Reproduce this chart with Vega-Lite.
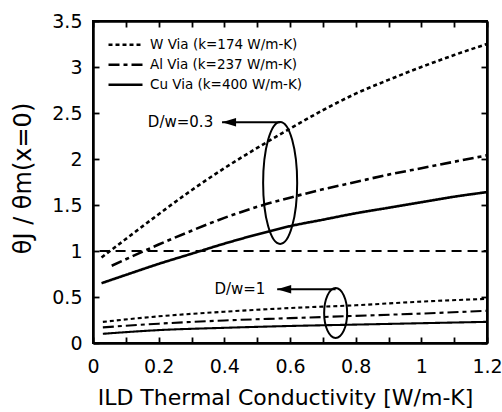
{
  "$schema": "https://vega.github.io/schema/vega-lite/v6.json",
  "width": 394,
  "height": 322,
  "autosize": {"type": "none"},
  "padding": {"left": 93, "top": 21, "right": 15, "bottom": 69},
  "background": "white",
  "config": {
    "font": "DejaVu Sans",
    "view": {"stroke": "black", "strokeWidth": 2},
    "axis": {
      "grid": false,
      "domainColor": "black",
      "domainWidth": 2.5,
      "tickColor": "black",
      "tickWidth": 1.8,
      "tickSize": -6,
      "labelColor": "black",
      "labelFont": "DejaVu Sans",
      "labelFontSize": 19,
      "labelFlush": false,
      "labelOverlap": false,
      "labelBound": false,
      "titleFont": "DejaVu Sans",
      "titleColor": "black",
      "titleFontWeight": "normal"
    }
  },
  "datasets": {
    "curves": [
      {"k": 0.026, "ratio": 0.93, "via": "W Via (k=174 W/m-K)", "dw": "0.3"},
      {"k": 0.1, "ratio": 1.13, "via": "W Via (k=174 W/m-K)", "dw": "0.3"},
      {"k": 0.2, "ratio": 1.4, "via": "W Via (k=174 W/m-K)", "dw": "0.3"},
      {"k": 0.3, "ratio": 1.66, "via": "W Via (k=174 W/m-K)", "dw": "0.3"},
      {"k": 0.4, "ratio": 1.9, "via": "W Via (k=174 W/m-K)", "dw": "0.3"},
      {"k": 0.5, "ratio": 2.12, "via": "W Via (k=174 W/m-K)", "dw": "0.3"},
      {"k": 0.6, "ratio": 2.33, "via": "W Via (k=174 W/m-K)", "dw": "0.3"},
      {"k": 0.7, "ratio": 2.53, "via": "W Via (k=174 W/m-K)", "dw": "0.3"},
      {"k": 0.8, "ratio": 2.71, "via": "W Via (k=174 W/m-K)", "dw": "0.3"},
      {"k": 0.9, "ratio": 2.86, "via": "W Via (k=174 W/m-K)", "dw": "0.3"},
      {"k": 1.0, "ratio": 3.0, "via": "W Via (k=174 W/m-K)", "dw": "0.3"},
      {"k": 1.1, "ratio": 3.13, "via": "W Via (k=174 W/m-K)", "dw": "0.3"},
      {"k": 1.2, "ratio": 3.25, "via": "W Via (k=174 W/m-K)", "dw": "0.3"},

      {"k": 0.057, "ratio": 0.84, "via": "Al Via (k=237 W/m-K)", "dw": "0.3"},
      {"k": 0.1, "ratio": 0.91, "via": "Al Via (k=237 W/m-K)", "dw": "0.3"},
      {"k": 0.2, "ratio": 1.07, "via": "Al Via (k=237 W/m-K)", "dw": "0.3"},
      {"k": 0.3, "ratio": 1.22, "via": "Al Via (k=237 W/m-K)", "dw": "0.3"},
      {"k": 0.4, "ratio": 1.36, "via": "Al Via (k=237 W/m-K)", "dw": "0.3"},
      {"k": 0.5, "ratio": 1.48, "via": "Al Via (k=237 W/m-K)", "dw": "0.3"},
      {"k": 0.6, "ratio": 1.58, "via": "Al Via (k=237 W/m-K)", "dw": "0.3"},
      {"k": 0.7, "ratio": 1.67, "via": "Al Via (k=237 W/m-K)", "dw": "0.3"},
      {"k": 0.8, "ratio": 1.75, "via": "Al Via (k=237 W/m-K)", "dw": "0.3"},
      {"k": 0.9, "ratio": 1.83, "via": "Al Via (k=237 W/m-K)", "dw": "0.3"},
      {"k": 1.0, "ratio": 1.9, "via": "Al Via (k=237 W/m-K)", "dw": "0.3"},
      {"k": 1.1, "ratio": 1.97, "via": "Al Via (k=237 W/m-K)", "dw": "0.3"},
      {"k": 1.2, "ratio": 2.04, "via": "Al Via (k=237 W/m-K)", "dw": "0.3"},

      {"k": 0.026, "ratio": 0.65, "via": "Cu Via (k=400 W/m-K)", "dw": "0.3"},
      {"k": 0.1, "ratio": 0.74, "via": "Cu Via (k=400 W/m-K)", "dw": "0.3"},
      {"k": 0.2, "ratio": 0.86, "via": "Cu Via (k=400 W/m-K)", "dw": "0.3"},
      {"k": 0.3, "ratio": 0.97, "via": "Cu Via (k=400 W/m-K)", "dw": "0.3"},
      {"k": 0.4, "ratio": 1.08, "via": "Cu Via (k=400 W/m-K)", "dw": "0.3"},
      {"k": 0.5, "ratio": 1.18, "via": "Cu Via (k=400 W/m-K)", "dw": "0.3"},
      {"k": 0.6, "ratio": 1.27, "via": "Cu Via (k=400 W/m-K)", "dw": "0.3"},
      {"k": 0.7, "ratio": 1.34, "via": "Cu Via (k=400 W/m-K)", "dw": "0.3"},
      {"k": 0.8, "ratio": 1.41, "via": "Cu Via (k=400 W/m-K)", "dw": "0.3"},
      {"k": 0.9, "ratio": 1.47, "via": "Cu Via (k=400 W/m-K)", "dw": "0.3"},
      {"k": 1.0, "ratio": 1.53, "via": "Cu Via (k=400 W/m-K)", "dw": "0.3"},
      {"k": 1.1, "ratio": 1.59, "via": "Cu Via (k=400 W/m-K)", "dw": "0.3"},
      {"k": 1.2, "ratio": 1.64, "via": "Cu Via (k=400 W/m-K)", "dw": "0.3"},

      {"k": 0.03, "ratio": 0.23, "via": "W Via (k=174 W/m-K)", "dw": "1"},
      {"k": 0.2, "ratio": 0.29, "via": "W Via (k=174 W/m-K)", "dw": "1"},
      {"k": 0.4, "ratio": 0.34, "via": "W Via (k=174 W/m-K)", "dw": "1"},
      {"k": 0.6, "ratio": 0.38, "via": "W Via (k=174 W/m-K)", "dw": "1"},
      {"k": 0.8, "ratio": 0.41, "via": "W Via (k=174 W/m-K)", "dw": "1"},
      {"k": 1.0, "ratio": 0.45, "via": "W Via (k=174 W/m-K)", "dw": "1"},
      {"k": 1.2, "ratio": 0.48, "via": "W Via (k=174 W/m-K)", "dw": "1"},

      {"k": 0.03, "ratio": 0.17, "via": "Al Via (k=237 W/m-K)", "dw": "1"},
      {"k": 0.2, "ratio": 0.21, "via": "Al Via (k=237 W/m-K)", "dw": "1"},
      {"k": 0.4, "ratio": 0.245, "via": "Al Via (k=237 W/m-K)", "dw": "1"},
      {"k": 0.6, "ratio": 0.27, "via": "Al Via (k=237 W/m-K)", "dw": "1"},
      {"k": 0.8, "ratio": 0.295, "via": "Al Via (k=237 W/m-K)", "dw": "1"},
      {"k": 1.0, "ratio": 0.32, "via": "Al Via (k=237 W/m-K)", "dw": "1"},
      {"k": 1.2, "ratio": 0.35, "via": "Al Via (k=237 W/m-K)", "dw": "1"},

      {"k": 0.03, "ratio": 0.1, "via": "Cu Via (k=400 W/m-K)", "dw": "1"},
      {"k": 0.2, "ratio": 0.14, "via": "Cu Via (k=400 W/m-K)", "dw": "1"},
      {"k": 0.4, "ratio": 0.165, "via": "Cu Via (k=400 W/m-K)", "dw": "1"},
      {"k": 0.6, "ratio": 0.185, "via": "Cu Via (k=400 W/m-K)", "dw": "1"},
      {"k": 0.8, "ratio": 0.2, "via": "Cu Via (k=400 W/m-K)", "dw": "1"},
      {"k": 1.0, "ratio": 0.215, "via": "Cu Via (k=400 W/m-K)", "dw": "1"},
      {"k": 1.2, "ratio": 0.23, "via": "Cu Via (k=400 W/m-K)", "dw": "1"}
    ],
    "unity": [{"k": 0.02, "k2": 1.2, "ratio": 1}],
    "groups": [
      {"dw": "0.3", "cx": 0.57, "cy": 1.74, "tip": 0.393, "end": 0.57, "ay": 2.4, "labelx": 0.366, "label": "D/w=0.3"},
      {"dw": "1", "cx": 0.739, "cy": 0.326, "tip": 0.561, "end": 0.739, "ay": 0.585, "labelx": 0.525, "label": "D/w=1"}
    ]
  },
  "layer": [
    {
      "data": {"name": "curves"},
      "mark": {"type": "line", "color": "black", "interpolate": "monotone"},
      "encoding": {
        "x": {
          "field": "k", "type": "quantitative",
          "scale": {"domain": [0, 1.2], "nice": false, "zero": false},
          "axis": {
            "orient": "bottom",
            "values": [0, 0.1, 0.2, 0.3, 0.4, 0.5, 0.6, 0.7, 0.8, 0.9, 1, 1.1, 1.2],
            "labelExpr": "round(datum.value * 10) % 2 == 0 ? format(datum.value, '~g') : ''",
            "labelPadding": 20,
            "title": "ILD Thermal Conductivity [W/m-K]",
            "titleFontSize": 22,
            "titleX": 192,
            "titleY": 61,
            "titleBaseline": "alphabetic"
          }
        },
        "y": {
          "field": "ratio", "type": "quantitative",
          "scale": {"domain": [0, 3.5], "nice": false},
          "axis": {
            "orient": "left",
            "values": [0, 0.5, 1, 1.5, 2, 2.5, 3, 3.5],
            "format": "~g",
            "labelPadding": 17,
            "title": "θJ / θm(x=0)",
            "titleFontSize": 24,
            "titleAngle": 270,
            "titleX": -63,
            "titleY": 157,
            "titleAlign": "center",
            "titleBaseline": "alphabetic"
          }
        },
        "detail": {"field": "dw"},
        "strokeDash": {
          "field": "via", "type": "nominal",
          "scale": {
            "domain": ["W Via (k=174 W/m-K)", "Al Via (k=237 W/m-K)", "Cu Via (k=400 W/m-K)"],
            "range": [[4, 3], [11, 4, 4, 4], [1, 0]]
          },
          "legend": {
            "orient": "none",
            "legendX": 14,
            "legendY": 15,
            "title": null,
            "padding": 0,
            "symbolType": "stroke",
            "symbolSize": 1156,
            "symbolStrokeColor": "black",
            "symbolStrokeWidth": 2.5,
            "clipHeight": 17.5,
            "rowPadding": 2,
            "labelOffset": 6,
            "labelLimit": 400,
            "labelExpr": "datum.value",
            "labelFont": "DejaVu Sans",
            "labelFontSize": 13.5,
            "labelColor": "black"
          }
        },
        "strokeWidth": {
          "field": "dw", "type": "nominal",
          "scale": {"domain": ["0.3", "1"], "range": [2.6, 2.1]},
          "legend": null
        }
      }
    },
    {
      "data": {"name": "unity"},
      "mark": {"type": "rule", "color": "black", "strokeDash": [10, 6], "strokeWidth": 2.2},
      "encoding": {
        "x": {
          "field": "k", "type": "quantitative",
          "scale": {"domain": [0, 1.2], "nice": false, "zero": false},
          "axis": {
            "orient": "top",
            "values": [0, 0.1, 0.2, 0.3, 0.4, 0.5, 0.6, 0.7, 0.8, 0.9, 1, 1.1, 1.2],
            "labels": false,
            "title": null
          }
        },
        "x2": {"field": "k2"},
        "y": {
          "field": "ratio", "type": "quantitative",
          "scale": {"domain": [0, 3.5], "nice": false},
          "axis": {
            "orient": "right",
            "values": [0, 0.5, 1, 1.5, 2, 2.5, 3, 3.5],
            "labels": false,
            "title": null
          }
        }
      }
    },
    {
      "data": {"name": "groups"},
      "transform": [{"filter": "datum.dw == '0.3'"}],
      "mark": {
        "type": "point",
        "shape": "M0,-1A0.279,1,0,1,1,0,1A0.279,1,0,1,1,0,-1Z",
        "size": 14884,
        "filled": false,
        "stroke": "black",
        "strokeWidth": 2,
        "opacity": 1
      },
      "encoding": {
        "x": {"field": "cx", "type": "quantitative", "axis": null},
        "y": {"field": "cy", "type": "quantitative", "axis": null}
      }
    },
    {
      "data": {"name": "groups"},
      "transform": [{"filter": "datum.dw == '1'"}],
      "mark": {
        "type": "point",
        "shape": "M0,-1A0.46,1,0,1,1,0,1A0.46,1,0,1,1,0,-1Z",
        "size": 2500,
        "filled": false,
        "stroke": "black",
        "strokeWidth": 2,
        "opacity": 1
      },
      "encoding": {
        "x": {"field": "cx", "type": "quantitative", "axis": null},
        "y": {"field": "cy", "type": "quantitative", "axis": null}
      }
    },
    {
      "data": {"name": "groups"},
      "mark": {"type": "rule", "color": "black", "strokeWidth": 2},
      "encoding": {
        "x": {"field": "tip", "type": "quantitative", "axis": null},
        "x2": {"field": "end"},
        "y": {"field": "ay", "type": "quantitative", "axis": null}
      }
    },
    {
      "data": {"name": "groups"},
      "mark": {
        "type": "point",
        "shape": "M0,0L2,-0.6L2,0.6Z",
        "size": 196,
        "filled": true,
        "color": "black",
        "opacity": 1
      },
      "encoding": {
        "x": {"field": "tip", "type": "quantitative", "axis": null},
        "y": {"field": "ay", "type": "quantitative", "axis": null}
      }
    },
    {
      "data": {"name": "groups"},
      "mark": {
        "type": "text",
        "align": "right",
        "baseline": "middle",
        "font": "DejaVu Sans",
        "fontSize": 15,
        "color": "black"
      },
      "encoding": {
        "x": {"field": "labelx", "type": "quantitative", "axis": null},
        "y": {"field": "ay", "type": "quantitative", "axis": null},
        "text": {"field": "label"}
      }
    }
  ],
  "resolve": {"axis": {"x": "independent", "y": "independent"}}
}
